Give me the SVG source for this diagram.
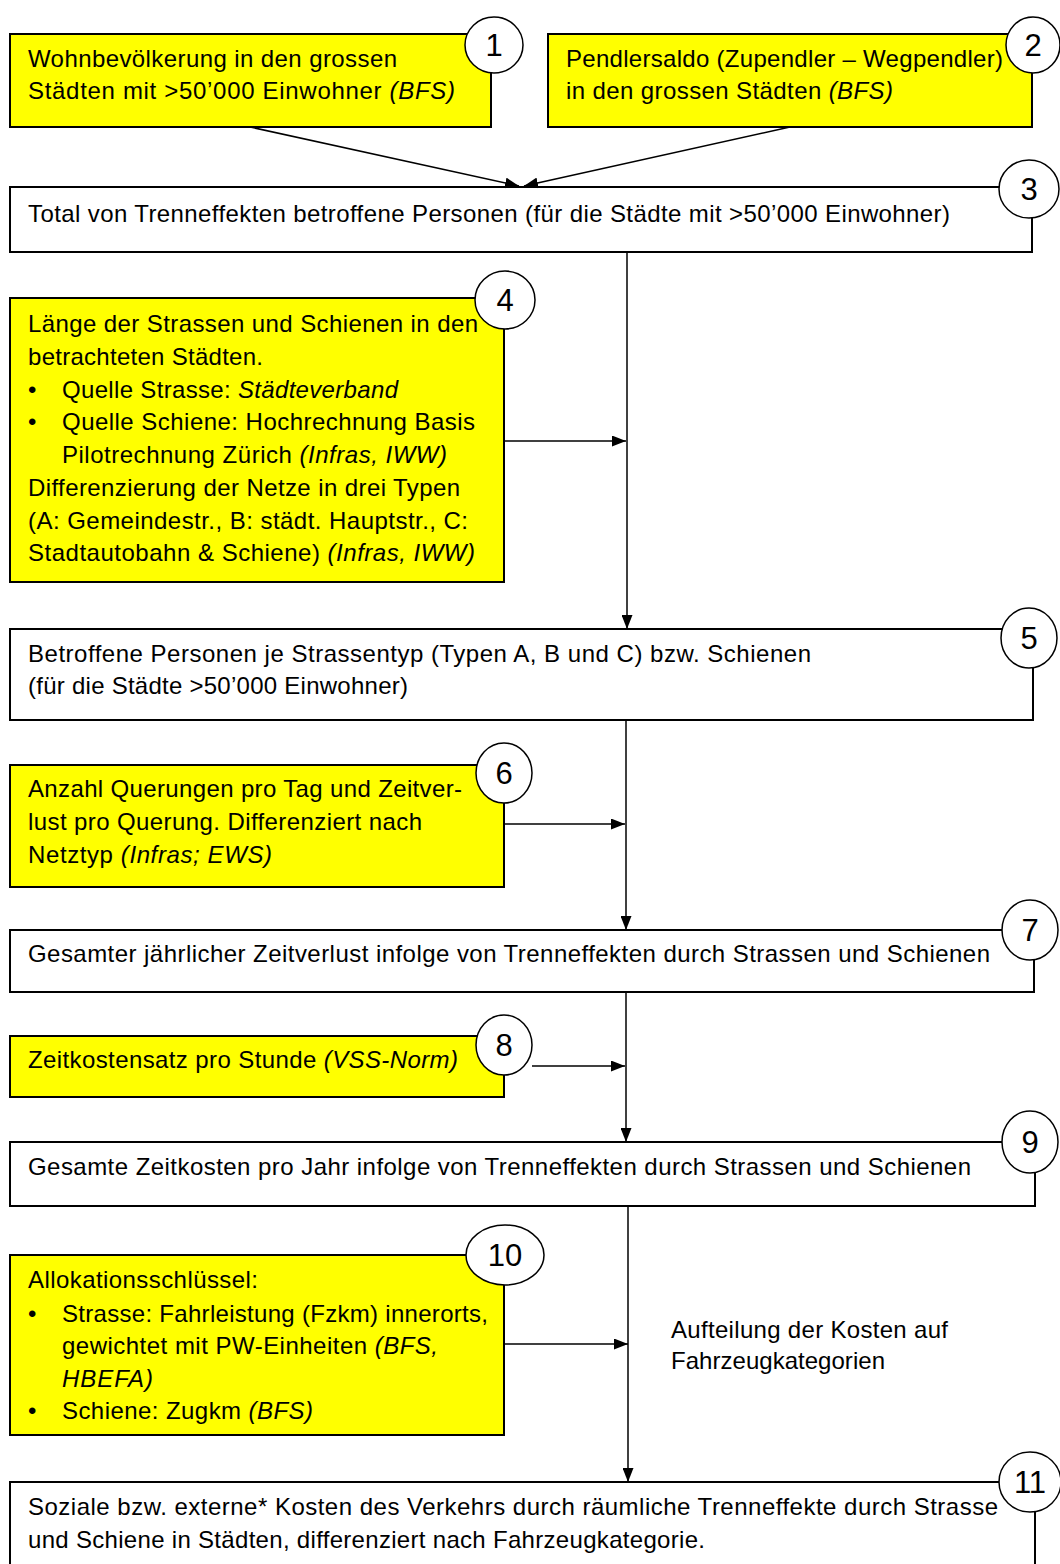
<svg xmlns="http://www.w3.org/2000/svg" width="1060" height="1564" viewBox="0 0 1060 1564">
<defs>
<style>
.box{fill:#fff;stroke:#000;stroke-width:2}
.ybox{fill:#ffff00;stroke:#000;stroke-width:2}
.num{fill:#fff;stroke:#000;stroke-width:1.5}
text{font-family:"Liberation Sans",Arial,sans-serif;font-size:24px;fill:#000}
.n{font-size:31px;text-anchor:middle}
.i{font-style:italic}
.conn line{stroke:#000;stroke-width:1.5;fill:none}
</style>
<marker id="ah" markerUnits="userSpaceOnUse" markerWidth="15" markerHeight="11" refX="14" refY="5.5" orient="auto">
<path d="M0,0 L14,5.5 L0,11 z" fill="#000"/>
</marker>
</defs>
<rect width="1060" height="1564" fill="#fff"/>

<g id="node1">
<rect class="ybox" x="10" y="34" width="481" height="93"/>
<text x="28" y="67" textLength="369" lengthAdjust="spacing">Wohnbevölkerung  in den grossen</text>
<text x="28" y="99" textLength="427" lengthAdjust="spacing">Städten  mit &gt;50’000 Einwohner  <tspan class="i">(BFS)</tspan></text>
<ellipse class="num" cx="494" cy="45" rx="29" ry="28"/>
<text class="n" x="494" y="56">1</text>
</g>

<g id="node2">
<rect class="ybox" x="548" y="34" width="484" height="93"/>
<text x="566" y="67" textLength="437" lengthAdjust="spacing">Pendlersaldo (Zupendler  – Wegpendler)</text>
<text x="566" y="99" textLength="327" lengthAdjust="spacing">in den grossen Städten <tspan class="i">(BFS)</tspan></text>
<ellipse class="num" cx="1033" cy="45" rx="27" ry="28"/>
<text class="n" x="1033" y="56">2</text>
</g>

<g id="node3">
<rect class="box" x="10" y="187" width="1022" height="65"/>
<text x="28" y="222" textLength="922" lengthAdjust="spacing">Total von Trenneffekten  betroffene  Personen (für die Städte mit &gt;50’000 Einwohner)</text>
<ellipse class="num" cx="1029" cy="189" rx="30" ry="29"/>
<text class="n" x="1029" y="200">3</text>
</g>

<g id="node4">
<rect class="ybox" x="10" y="298" width="494" height="284"/>
<text x="28" y="332" textLength="450" lengthAdjust="spacing">Länge der Strassen und Schienen in den</text>
<text x="28" y="365" textLength="235" lengthAdjust="spacing">betrachteten Städten.</text>
<text x="28" y="398">•</text><text x="62" y="398" textLength="336" lengthAdjust="spacing">Quelle Strasse: <tspan class="i">Städteverband</tspan></text>
<text x="28" y="430">•</text><text x="62" y="430" textLength="413" lengthAdjust="spacing">Quelle Schiene: Hochrechnung  Basis</text>
<text x="62" y="463" textLength="385" lengthAdjust="spacing">Pilotrechnung Zürich <tspan class="i">(Infras, IWW)</tspan></text>
<text x="28" y="496" textLength="432" lengthAdjust="spacing">Differenzierung  der Netze in drei Typen</text>
<text x="28" y="529" textLength="440" lengthAdjust="spacing">(A: Gemeindestr., B: städt. Hauptstr., C:</text>
<text x="28" y="561" textLength="447" lengthAdjust="spacing">Stadtautobahn &amp; Schiene) <tspan class="i">(Infras, IWW)</tspan></text>
<ellipse class="num" cx="505" cy="300" rx="30" ry="29"/>
<text class="n" x="505" y="311">4</text>
</g>

<g id="node5">
<rect class="box" x="10" y="629" width="1023" height="91"/>
<text x="28" y="662" textLength="783" lengthAdjust="spacing">Betroffene  Personen je Strassentyp (Typen  A, B und C) bzw. Schienen</text>
<text x="28" y="694" textLength="380" lengthAdjust="spacing">(für die Städte &gt;50’000 Einwohner)</text>
<ellipse class="num" cx="1029" cy="638" rx="28" ry="30"/>
<text class="n" x="1029" y="649">5</text>
</g>

<g id="node6">
<rect class="ybox" x="10" y="765" width="494" height="122"/>
<text x="28" y="797" textLength="434" lengthAdjust="spacing">Anzahl Querungen  pro Tag und Zeitver-</text>
<text x="28" y="830" textLength="394" lengthAdjust="spacing">lust pro Querung.  Differenziert  nach</text>
<text x="28" y="863" textLength="244" lengthAdjust="spacing">Netztyp <tspan class="i">(Infras; EWS)</tspan></text>
<ellipse class="num" cx="504" cy="773" rx="28" ry="30"/>
<text class="n" x="504" y="784">6</text>
</g>

<g id="node7">
<rect class="box" x="10" y="930" width="1024" height="62"/>
<text x="28" y="962" textLength="962" lengthAdjust="spacing">Gesamter jährlicher Zeitverlust  infolge von Trenneffekten  durch Strassen und Schienen</text>
<ellipse class="num" cx="1030" cy="930" rx="28" ry="30"/>
<text class="n" x="1030" y="941">7</text>
</g>

<g id="node8">
<rect class="ybox" x="10" y="1036" width="494" height="61"/>
<text x="28" y="1068" textLength="430" lengthAdjust="spacing">Zeitkostensatz pro Stunde <tspan class="i">(VSS-Norm)</tspan></text>
<ellipse class="num" cx="504" cy="1045" rx="28" ry="30"/>
<text class="n" x="504" y="1056">8</text>
</g>

<g id="node9">
<rect class="box" x="10" y="1142" width="1025" height="64"/>
<text x="28" y="1175" textLength="943" lengthAdjust="spacing">Gesamte Zeitkosten pro Jahr infolge von Trenneffekten  durch Strassen und Schienen</text>
<ellipse class="num" cx="1030" cy="1142" rx="28" ry="31"/>
<text class="n" x="1030" y="1153">9</text>
</g>

<g id="node10">
<rect class="ybox" x="10" y="1255" width="494" height="180"/>
<text x="28" y="1288" textLength="230" lengthAdjust="spacing">Allokationsschlüssel:</text>
<text x="28" y="1322">•</text><text x="62" y="1322" textLength="426" lengthAdjust="spacing">Strasse: Fahrleistung (Fzkm) innerorts,</text>
<text x="62" y="1354" textLength="376" lengthAdjust="spacing">gewichtet mit PW-Einheiten <tspan class="i">(BFS,</tspan></text>
<text x="62" y="1387" class="i" textLength="91" lengthAdjust="spacing">HBEFA)</text>
<text x="28" y="1419">•</text><text x="62" y="1419" textLength="251" lengthAdjust="spacing">Schiene: Zugkm <tspan class="i">(BFS)</tspan></text>
<ellipse class="num" cx="505" cy="1255" rx="39" ry="30"/>
<text class="n" x="505" y="1266">10</text>
</g>

<g id="label-aufteilung">
<text x="671" y="1338" textLength="277" lengthAdjust="spacing">Aufteilung der Kosten auf</text>
<text x="671" y="1369" textLength="214" lengthAdjust="spacing">Fahrzeugkategorien</text>
</g>

<g id="node11">
<rect class="box" x="10" y="1482" width="1025" height="120"/>
<text x="28" y="1515" textLength="970" lengthAdjust="spacing">Soziale bzw. externe* Kosten des Verkehrs durch räumliche Trenneffekte  durch Strasse</text>
<text x="28" y="1548" textLength="677" lengthAdjust="spacing">und Schiene in Städten, differenziert  nach Fahrzeugkategorie.</text>
<ellipse class="num" cx="1030" cy="1482" rx="31" ry="30"/>
<text class="n" x="1030" y="1493">11</text>
</g>

<g class="conn" id="connectors">
<line x1="250" y1="127" x2="519" y2="186" marker-end="url(#ah)"/>
<line x1="790" y1="127" x2="524" y2="186" marker-end="url(#ah)"/>
<line x1="627" y1="252" x2="627" y2="629" marker-end="url(#ah)"/>
<line x1="504" y1="441" x2="626" y2="441" marker-end="url(#ah)"/>
<line x1="626" y1="720" x2="626" y2="930" marker-end="url(#ah)"/>
<line x1="504" y1="824" x2="625" y2="824" marker-end="url(#ah)"/>
<line x1="626" y1="992" x2="626" y2="1142" marker-end="url(#ah)"/>
<line x1="532" y1="1066" x2="625" y2="1066" marker-end="url(#ah)"/>
<line x1="628" y1="1206" x2="628" y2="1482" marker-end="url(#ah)"/>
<line x1="504" y1="1344" x2="628" y2="1344" marker-end="url(#ah)"/>
</g>
</svg>
